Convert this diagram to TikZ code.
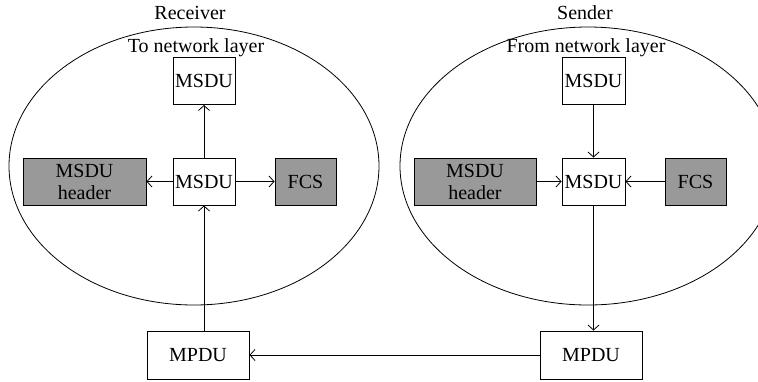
\documentclass[tikz,border=0pt]{standalone}
\usepackage{fontspec}
\setmainfont{Liberation Serif}
\usetikzlibrary{arrows.meta}
\definecolor{boxgray}{RGB}{153,153,153}
\begin{document}
\begin{tikzpicture}[x=1pt,y=-1pt,
  every node/.style={font=\fontsize{20}{22}\selectfont},
  blk/.style={draw, line width=0.9pt, inner sep=0pt, minimum height=47pt, align=center},
  wbox/.style={blk, fill=white},
  gbox/.style={blk, fill=boxgray},
  arr/.style={line width=0.8pt, -{Straight Barb[length=5pt,width=11pt,line width=0.8pt]}},
  ell/.style={line width=0.8pt}]
\useasboundingbox (0,0) rectangle (758,381);
\clip (0,0) rectangle (758,381);
% ellipses
\draw[ell] (194,166) ellipse [x radius=185, y radius=139];
\draw[ell] (588,166) ellipse [x radius=188, y radius=139];
% titles
\node (recv) at (190,13) {Receiver};
\node (send) at (585,13) {Sender};
\node (tonl) at (196,48) {To network layer};
\node (fromnl) at (586,48) {From network layer};
% left (receiver)
\node[wbox, minimum width=62pt] (lTop) at (204,81) {MSDU};
\node[wbox, minimum width=62pt] (lMid) at (204,181.5) {MSDU};
\node[gbox, minimum width=123pt] (lHdr) at (84.5,181.5) {MSDU\\header};
\node[gbox, minimum width=61pt] (lFCS) at (305.5,181.5) {FCS};
\node[wbox, minimum width=102pt, minimum height=48pt] (lMPDU) at (198,355) {MPDU};
% right (sender)
\node[wbox, minimum width=63pt] (rTop) at (593.5,81) {MSDU};
\node[wbox, minimum width=63pt] (rMid) at (593.5,181.5) {MSDU};
\node[gbox, minimum width=122pt] (rHdr) at (475,181.5) {MSDU\\header};
\node[gbox, minimum width=61pt] (rFCS) at (695.5,181.5) {FCS};
\node[wbox, minimum width=102pt, minimum height=48pt] (rMPDU) at (591,355) {MPDU};
% receiver arrows
\draw[arr] (lMid.north) -- (lTop.south);
\draw[arr] (lMid.west) -- (lHdr.east);
\draw[arr] (lMid.east) -- (lFCS.west);
\draw[arr] (lMPDU.north -| lMid.south) -- (lMid.south);
% sender arrows
\draw[arr] (rTop.south) -- (rMid.north);
\draw[arr] (rHdr.east) -- (rMid.west);
\draw[arr] (rFCS.west) -- (rMid.east);
\draw[arr] (rMid.south) -- (rMPDU.north -| rMid.south);
% between
\draw[arr] (rMPDU.west) -- (lMPDU.east);
\end{tikzpicture}
\end{document}
